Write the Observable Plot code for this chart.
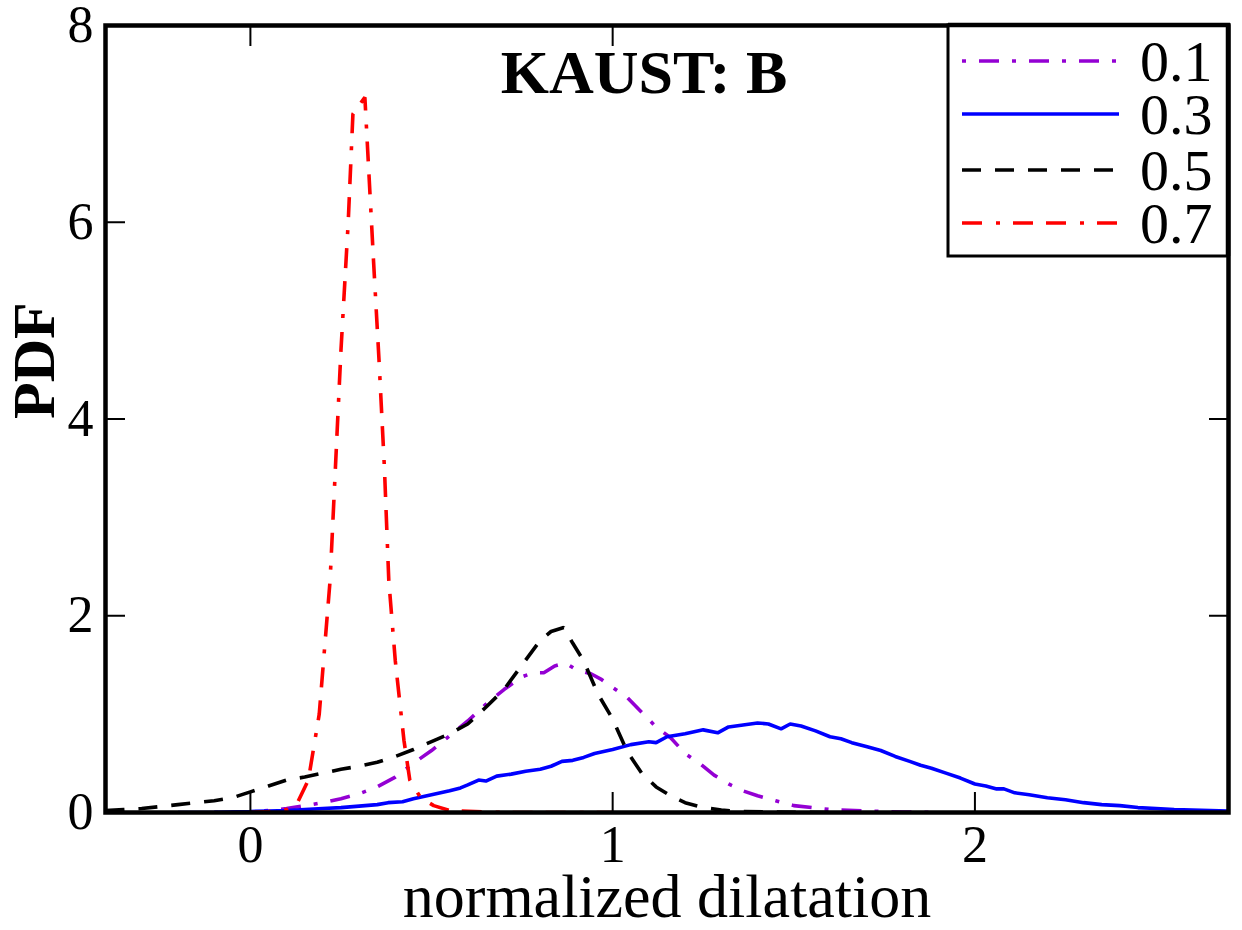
<!DOCTYPE html>
<html>
<head>
<meta charset="utf-8">
<script src="https://cdn.jsdelivr.net/npm/d3@7"></script>
<script src="https://cdn.jsdelivr.net/npm/@observablehq/plot@0.6"></script>
<style>
  html, body { margin: 0; padding: 0; background: #fff; }
  #wrap { position: relative; width: 1242px; height: 930px; }
  #legend { position: absolute; left: 0; top: 0; }
</style>
</head>
<body>
<div id="wrap"></div>
<script>
// ---- data ----
const titleText = "KAUST: B";
const xLabel = "normalized dilatation";
const yLabel = "PDF";
const xTicks = [0, 1, 2];
const yTicks = [0, 2, 4, 6, 8];

const seriesNames = ["0.1", "0.3", "0.5", "0.7"];
const seriesColors = ["#9400d3", "#0000ff", "#000000", "#ff0000"];
const seriesDashes = ["4,13,20,13", null, "19,14", "20,14,4,13,20,13"];

const x01 = [-0.1, -0.05, 0, 0.05, 0.1, 0.15, 0.2, 0.25, 0.3, 0.35, 0.4, 0.45, 0.5, 0.55, 0.6, 0.65, 0.7, 0.75, 0.78, 0.81, 0.84, 0.87, 0.9, 0.94, 0.97, 1.0, 1.04, 1.08, 1.12, 1.16, 1.2, 1.24, 1.28, 1.32, 1.36, 1.4, 1.45, 1.5, 1.55, 1.6, 1.7, 1.8, 1.9];
const y01 = [0.0, 0.003, 0.01, 0.02, 0.04, 0.07, 0.1, 0.14, 0.19, 0.26, 0.36, 0.5, 0.63, 0.78, 0.93, 1.1, 1.25, 1.38, 1.42, 1.42, 1.49, 1.52, 1.45, 1.41, 1.35, 1.27, 1.17, 1.02, 0.87, 0.76, 0.6, 0.5, 0.38, 0.29, 0.22, 0.17, 0.12, 0.07, 0.05, 0.03, 0.015, 0.005, 0.0];

const x03 = [-0.2, -0.1, 0, 0.05, 0.1, 0.15, 0.2, 0.25, 0.3, 0.35, 0.38, 0.42, 0.45, 0.5, 0.55, 0.58, 0.6, 0.63, 0.65, 0.68, 0.72, 0.76, 0.8, 0.83, 0.86, 0.89, 0.92, 0.95, 1.0, 1.05, 1.1, 1.12, 1.15, 1.2, 1.25, 1.29, 1.32, 1.36, 1.4, 1.43, 1.465, 1.49, 1.52, 1.56, 1.6, 1.63, 1.66, 1.7, 1.74, 1.78, 1.82, 1.85, 1.88, 1.92, 1.96, 2.0, 2.03, 2.06, 2.08, 2.11, 2.15, 2.2, 2.25, 2.3, 2.35, 2.4, 2.45, 2.5, 2.55, 2.6, 2.65, 2.7];
const y03 = [0.0, 0.003, 0.01, 0.015, 0.02, 0.03, 0.04, 0.05, 0.065, 0.08, 0.1, 0.11, 0.14, 0.18, 0.22, 0.25, 0.28, 0.33, 0.32, 0.37, 0.39, 0.42, 0.44, 0.47, 0.52, 0.53, 0.56, 0.6, 0.64, 0.69, 0.72, 0.71, 0.77, 0.8, 0.84, 0.81, 0.87, 0.89, 0.91, 0.9, 0.85, 0.9, 0.88, 0.83, 0.77, 0.75, 0.71, 0.67, 0.63, 0.57, 0.52, 0.48, 0.45, 0.4, 0.35, 0.29, 0.27, 0.24, 0.24, 0.2, 0.18, 0.15, 0.13, 0.1, 0.08, 0.07, 0.05, 0.04, 0.03, 0.025, 0.02, 0.015];

const x05 = [-0.4, -0.35, -0.3, -0.25, -0.2, -0.15, -0.1, -0.05, 0, 0.05, 0.1, 0.15, 0.2, 0.25, 0.3, 0.35, 0.4, 0.45, 0.5, 0.55, 0.6, 0.65, 0.7, 0.75, 0.8, 0.83, 0.865, 0.89, 0.92, 0.96, 1.0, 1.04, 1.08, 1.12, 1.16, 1.2, 1.25, 1.3, 1.35, 1.45, 1.6];
const y05 = [0.02, 0.03, 0.04, 0.06, 0.08, 0.1, 0.12, 0.15, 0.21, 0.27, 0.33, 0.36, 0.4, 0.44, 0.47, 0.51, 0.57, 0.64, 0.72, 0.8, 0.9, 1.07, 1.25, 1.5, 1.75, 1.84, 1.88, 1.72, 1.54, 1.2, 0.95, 0.62, 0.4, 0.26, 0.17, 0.1, 0.05, 0.025, 0.01, 0.004, 0.0];

const x07 = [0, 0.05, 0.1, 0.13, 0.16, 0.19, 0.22, 0.25, 0.27, 0.283, 0.316, 0.34, 0.355, 0.37, 0.382, 0.4, 0.424, 0.44, 0.47, 0.506, 0.55, 0.7, 1.0];
const y07 = [0.0, 0.01, 0.03, 0.1, 0.33, 1.0, 2.36, 4.7, 6.0, 7.1, 7.27, 5.6, 4.6, 3.5, 2.36, 1.54, 0.73, 0.33, 0.15, 0.07, 0.02, 0.0, 0.0];

const seriesX = [x01, x03, x05, x07];
const seriesY = [y01, y03, y05, y07];

// ---- chart ----
const font = "'Liberation Serif', 'Times New Roman', serif";
const W = 1242, H = 930;

const lineMarks = seriesNames.map((name, i) => {
  const rows = seriesX[i].map((x, j) => ({x, y: seriesY[i][j], s: name}));
  return Plot.line(rows, {
    x: "x", y: "y",
    stroke: seriesColors[i],
    strokeWidth: 3.6,
    strokeDasharray: seriesDashes[i] ?? undefined,
    strokeLinejoin: "miter",
    strokeLinecap: "butt",
    clip: true
  });
});

const chart = Plot.plot({
  width: W,
  height: H,
  marginLeft: 105,
  marginRight: 14,
  marginTop: 25,
  marginBottom: 118,
  style: {fontFamily: font, fontSize: "52px", background: "white", color: "black", overflow: "visible"},
  x: {domain: [-0.4, 2.7]},
  y: {domain: [0, 8]},
  marks: [
    ...lineMarks,
    Plot.axisX({anchor: "bottom", ticks: xTicks, tickSize: -20, tickPadding: 33, strokeWidth: 2, label: null, fontSize: 52, tickFormat: d3.format("d")}),
    Plot.axisX({anchor: "top", ticks: xTicks, tickSize: -20, strokeWidth: 2, label: null, tickFormat: () => ""}),
    Plot.axisY({anchor: "left", ticks: yTicks, tickSize: -20, tickPadding: 32, strokeWidth: 2, label: null, fontSize: 52, tickFormat: d3.format("d")}),
    Plot.axisY({anchor: "right", ticks: yTicks, tickSize: -20, strokeWidth: 2, label: null, tickFormat: () => ""}),
    Plot.frame({stroke: "black", strokeWidth: 4.5}),
    Plot.text([titleText], {text: d => d, frameAnchor: "top", lineAnchor: "bottom", dx: -23, dy: 67, fontSize: 62, fontWeight: "bold", fontFamily: font}),
    Plot.text([xLabel], {text: d => d, frameAnchor: "bottom", lineAnchor: "bottom", dx: 0, dy: 104, fontSize: 62, fontFamily: font}),
    Plot.text([yLabel], {text: d => d, frameAnchor: "left", lineAnchor: "bottom", rotate: -90, dx: -52, dy: 0, fontSize: 60, fontWeight: "bold", fontFamily: font})
  ]
});

const wrap = document.getElementById("wrap");
wrap.appendChild(chart);

// ---- legend (overlay, built from the series arrays) ----
const leg = d3.select(wrap).append("svg")
  .attr("id", "legend")
  .attr("width", W).attr("height", H);
const box = {x0: 948, x1: 1228, y0: 25, y1: 256};
leg.append("rect")
  .attr("x", box.x0).attr("y", box.y0)
  .attr("width", box.x1 - box.x0).attr("height", box.y1 - box.y0)
  .attr("fill", "white").attr("stroke", "black").attr("stroke-width", 3);
leg.append("path")
  .attr("d", `M${box.x0},${box.y0}H${box.x1 + 2}M${box.x1},${box.y0}V${box.y1}`)
  .attr("stroke", "black").attr("stroke-width", 4.5).attr("fill", "none");
const rowY = [61, 114, 170, 223];
seriesNames.forEach((name, i) => {
  const g = leg.append("g");
  g.append("line")
    .attr("x1", 962).attr("x2", 1119)
    .attr("y1", rowY[i]).attr("y2", rowY[i])
    .attr("stroke", seriesColors[i]).attr("stroke-width", 3.6)
    .attr("stroke-dasharray", seriesDashes[i]);
  g.append("text")
    .attr("x", 1140).attr("y", rowY[i] + 20)
    .attr("font-family", font).attr("font-size", 58)
    .text(name);
});
</script>
</body>
</html>
